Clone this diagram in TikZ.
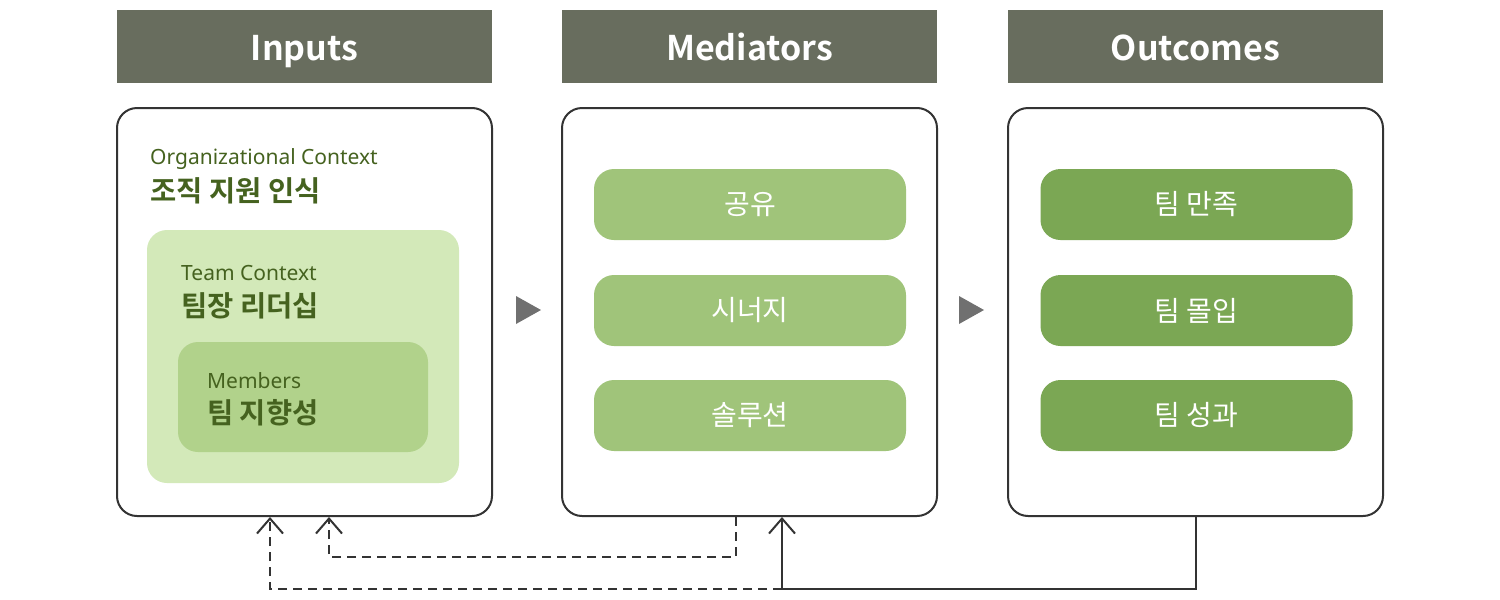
\documentclass[tikz,border=0pt]{standalone}
\usepackage{fontspec}
\setmainfont{Noto Sans}
\newfontfamily\kr{Noto Sans CJK KR}[BoldFont={Noto Sans CJK KR Bold}]
\usetikzlibrary{arrows.meta}
\definecolor{hdrfill}{HTML}{686D5E}
\definecolor{border}{HTML}{333333}
\definecolor{teamfill}{HTML}{D3E9B9}
\definecolor{memfill}{HTML}{B1D28B}
\definecolor{medfill}{HTML}{A0C47A}
\definecolor{outfill}{HTML}{7BA754}
\definecolor{dkgreen}{HTML}{45621F}
\definecolor{trigray}{HTML}{707070}
\begin{document}
\begin{tikzpicture}[x=1pt,y=-1pt,
  hdr/.style={fill=hdrfill, minimum width=375, minimum height=73, inner sep=0, text height=30pt, text depth=3pt, text=white, font=\kr\bfseries\fontsize{34}{40}\selectfont},
  outer/.style={draw=border, line width=2pt, rounded corners=20pt, fill=white, minimum width=375, minimum height=408, inner sep=0},
  teambox/.style={fill=teamfill, rounded corners=20pt, minimum width=312, minimum height=253, inner sep=0},
  membox/.style={fill=memfill, rounded corners=20pt, minimum width=250, minimum height=110, inner sep=0},
  pill/.style={rounded corners=20pt, minimum width=312, minimum height=71, inner sep=0, text=white, font=\kr\fontsize{28}{32}\selectfont},
  medpill/.style={pill, fill=medfill},
  outpill/.style={pill, fill=outfill},
  entxt/.style={anchor=west, inner sep=0, text=dkgreen, font=\fontsize{21}{25}\selectfont},
  krtxt/.style={anchor=west, inner sep=0, text=dkgreen, font=\kr\bfseries\fontsize{28.5}{32}\selectfont},
  fb/.style={draw=border, line width=2pt, dash pattern=on 9pt off 6pt},
  fbsolid/.style={draw=border, line width=2pt},
  tip/.style={-{Straight Barb[length=15pt,width=26pt,line width=2pt]}},
  tri/.style={fill=trigray}
]
\useasboundingbox (0,0) rectangle (1500,600);

% headers
\node[hdr] (hIn) at (304.5,46.5) {Inputs};
\node[hdr] (hMed) at (749.5,46.5) {Mediators};
\node[hdr] (hOut) at (1195.5,46.5) {Outcomes};

% outer boxes
\node[outer] (inbox) at (304.5,312) {};
\node[outer] (medbox) at (749.5,312) {};
\node[outer] (outbox) at (1195.5,312) {};

% inputs nesting
\node[teambox] (team) at (303,356.5) {};
\node[membox] (mem) at (303,397) {};
\node[entxt] (orgEn) at (150,159) {Organizational Context};
\node[krtxt] (orgKr) at (150,191) {조직 지원 인식};
\node[entxt] (teamEn) at (181,273) {Team Context};
\node[krtxt] (teamKr) at (181,306) {팀장 리더십};
\node[entxt] (memEn) at (207,381) {Members};
\node[krtxt] (memKr) at (207,413) {팀 지향성};

% mediators
\node[medpill] (m1) at (750,204.5) {공유};
\node[medpill] (m2) at (750,310.5) {시너지};
\node[medpill] (m3) at (750,415.5) {솔루션};

% outcomes
\node[outpill] (o1) at (1196.5,204.5) {팀 만족};
\node[outpill] (o2) at (1196.5,310.5) {팀 몰입};
\node[outpill] (o3) at (1196.5,415.5) {팀 성과};

% arrows between columns
\fill[tri] (516,296) -- (541,310) -- (516,324) -- cycle;
\fill[tri] (959,296) -- (984,310) -- (959,324) -- cycle;

% feedback connectors
\coordinate (fb1a) at (736,557);
\coordinate (fb1b) at (329,557);
\coordinate (fb2a) at (1196,589);
\coordinate (fb2b) at (782,589);
\coordinate (fb3) at (270,589);
\draw[fb, tip] (medbox.south -| fb1a) -- (fb1a) -- (fb1b) -- (inbox.south -| fb1b);
\draw[fbsolid, tip] (outbox.south -| fb2a) -- (fb2a) -- (fb2b) -- (medbox.south -| fb2b);
\draw[fb, tip] (fb2b) -- (fb3) -- (inbox.south -| fb3);
\end{tikzpicture}
\end{document}
